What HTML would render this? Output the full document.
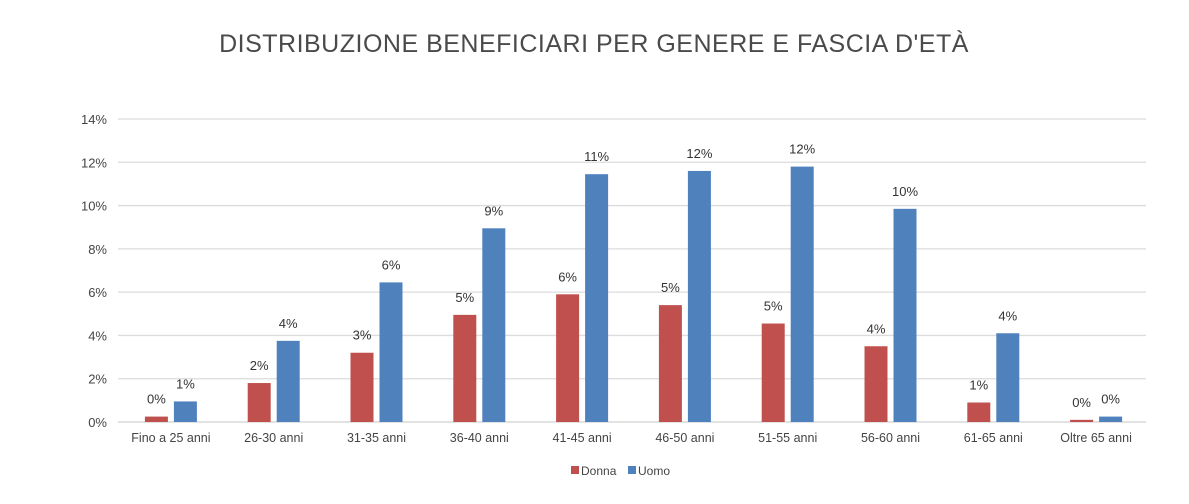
<!DOCTYPE html>
<html><head><meta charset="utf-8"><style>
body{margin:0;background:#fff;width:1189px;height:499px;overflow:hidden;font-family:"Liberation Sans",sans-serif}
</style></head><body>
<svg width="1189" height="499">
<text x="594" y="52" text-anchor="middle" font-size="25" fill="#4a4a4a" letter-spacing="0.5">DISTRIBUZIONE BENEFICIARI PER GENERE E FASCIA D'ETÀ</text>
<g id="grid"></g><g id="bars"></g><g id="labels"></g>
<g>
<rect x="571" y="466" width="8" height="8" fill="#c0504d"/>
<text x="581" y="475" font-size="12" fill="#444">Donna</text>
<rect x="628" y="466" width="8" height="8" fill="#4f81bd"/>
<text x="638" y="475" font-size="12" fill="#444">Uomo</text>
</g>
</svg>
<script>
const categories=["Fino a 25 anni","26-30 anni","31-35 anni","36-40 anni","41-45 anni","46-50 anni","51-55 anni","56-60 anni","61-65 anni","Oltre 65 anni"];
const donna=[0.25,1.8,3.2,4.95,5.9,5.4,4.55,3.5,0.9,0.1];
const uomo=[0.95,3.75,6.45,8.95,11.45,11.6,11.8,9.85,4.1,0.25];
const donnaLabels=["0%","2%","3%","5%","6%","5%","5%","4%","1%","0%"];
const uomoLabels=["1%","4%","6%","9%","11%","12%","12%","10%","4%","0%"];
const ticks=[0,2,4,6,8,10,12,14];
const NS="http://www.w3.org/2000/svg";
const x0=118,x1=1146,y0=422,yTop=119,maxV=14;
const y=v=>y0-(v/maxV)*(y0-yTop);
const band=(x1-x0)/categories.length;
const cx=i=>x0+band*i+band/2+1.5;
function mk(t,a,p,txt){const e=document.createElementNS(NS,t);for(const k in a)e.setAttribute(k,a[k]);if(txt!==undefined)e.textContent=txt;p.appendChild(e);return e;}
const g=document.getElementById('grid'),b=document.getElementById('bars'),l=document.getElementById('labels');
ticks.forEach(t=>{
const ln=mk('line',{x1:x0,x2:x1,y1:y(t),y2:y(t),stroke:t===0?'#d0d0d0':'#dcdcdc','stroke-width':1.3},g);


const tx=mk('text',{x:107,y:y(t)+5,'text-anchor':'end','font-size':13,fill:'#444'},g,t+'%');


});
categories.forEach((c,i)=>{
const c0=cx(i),w=23;
const r1=mk('rect',{x:c0-3-w,y:y(donna[i]),width:w,height:y0-y(donna[i]),fill:'#c0504d'},b);


const r2=mk('rect',{x:c0+3,y:y(uomo[i]),width:w,height:y0-y(uomo[i]),fill:'#4f81bd'},b);


const t1=mk('text',{x:c0-3-w/2,y:y(donna[i])-13,'text-anchor':'middle','font-size':13,fill:'#333'},l,donnaLabels[i]);


const t2=mk('text',{x:c0+3+w/2,y:y(uomo[i])-13,'text-anchor':'middle','font-size':13,fill:'#333'},l,uomoLabels[i]);


const xl=mk('text',{x:c0,y:442,'text-anchor':'middle','font-size':12.5,fill:'#444'},l,c);


});
</script>
</body></html>
